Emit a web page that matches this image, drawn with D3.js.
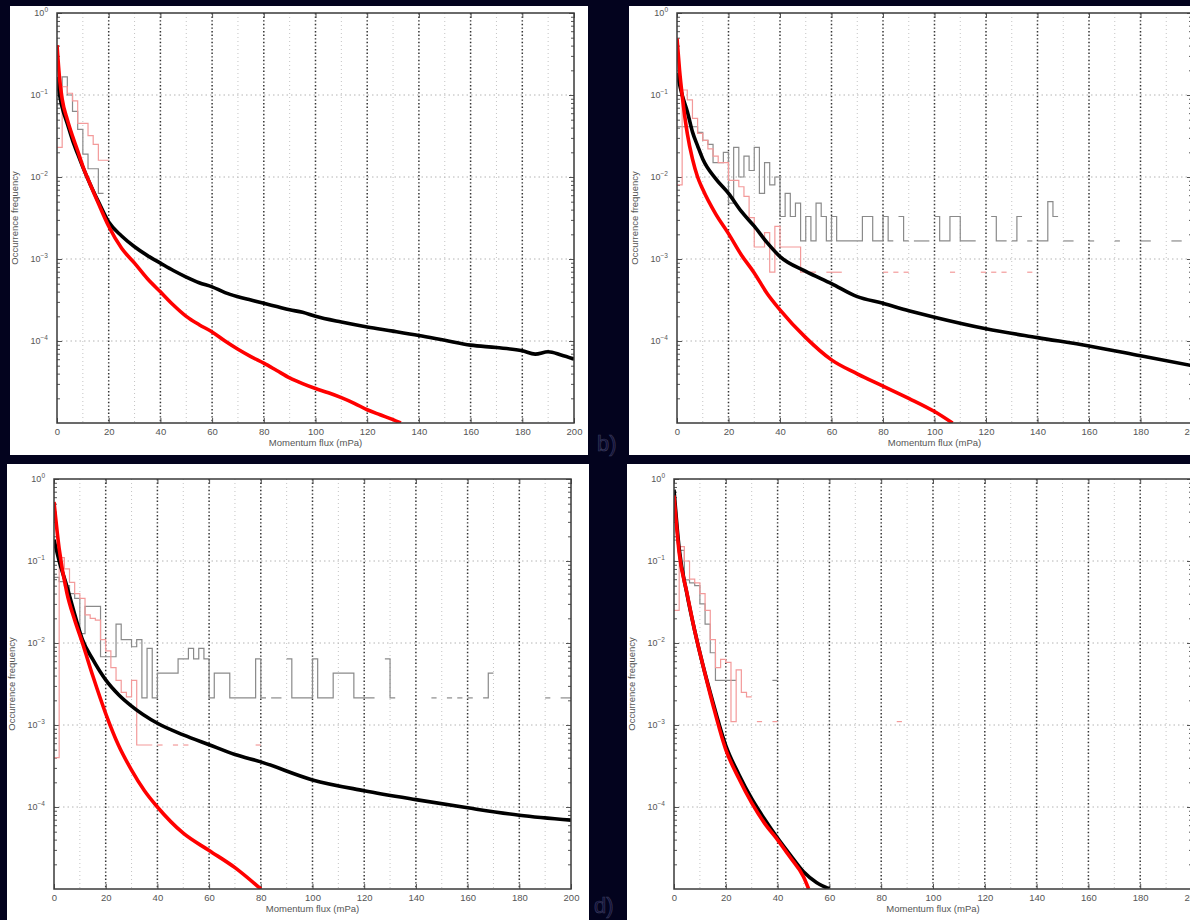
<!DOCTYPE html>
<html><head><meta charset="utf-8">
<script src="https://cdn.jsdelivr.net/npm/d3@7"></script>
<style>html,body{margin:0;padding:0;background:#03031e;overflow:hidden}svg{display:block}</style>
</head><body>
<svg id="chart" width="1190" height="920"></svg>
<script>
// ---------- tick labels / text ----------
const xTickValues = [0,20,40,60,80,100,120,140,160,180,200];
const yTickExponents = [0,-1,-2,-3,-4];
const xLabel = "Momentum flux (mPa)";
const yLabel = "Occurrence frequency";
const panelLetters = [null,"b)",null,"d)"];
const histBinWidth = 2;

// ---------- panel a ----------
const redA = [[0,4.07e-1],[1,1.58e-1],[2,8.91e-2],[4,5.01e-2],[6,3.16e-2],[8,2.09e-2],[10,1.35e-2],[13,7.94e-3],[16,4.79e-3],[20,2.51e-3],[25,1.35e-3],[30,8.91e-4],[35,5.75e-4],[40,3.98e-4],[45,2.75e-4],[50,2.00e-4],[55,1.58e-4],[60,1.29e-4],[65,1.00e-4],[70,7.94e-5],[75,6.46e-5],[80,5.37e-5],[85,4.37e-5],[90,3.55e-5],[95,3.02e-5],[100,2.63e-5],[105,2.34e-5],[110,2.04e-5],[115,1.74e-5],[120,1.45e-5],[125,1.26e-5],[130,1.10e-5],[133,1.00e-5]];
const blackA = [[0,1.66e-1],[1,1.00e-1],[2,7.08e-2],[4,4.47e-2],[6,2.82e-2],[8,1.91e-2],[10,1.32e-2],[13,7.94e-3],[16,5.01e-3],[20,2.82e-3],[25,1.91e-3],[30,1.41e-3],[35,1.10e-3],[40,8.91e-4],[45,7.24e-4],[50,6.03e-4],[55,5.13e-4],[60,4.57e-4],[65,3.89e-4],[70,3.47e-4],[75,3.16e-4],[80,2.88e-4],[85,2.63e-4],[90,2.40e-4],[95,2.24e-4],[100,2.00e-4],[110,1.70e-4],[120,1.48e-4],[130,1.32e-4],[140,1.17e-4],[150,1.02e-4],[160,8.91e-5],[170,8.32e-5],[180,7.59e-5],[185,6.92e-5],[190,7.41e-5],[195,6.76e-5],[200,6.03e-5]];
const grayA = [[0,7.6e-2],[2,1.66e-1],[4,1.0e-1],[6,6.3e-2],[8,3.8e-2],[10,1.9e-2],[12,1.26e-2],[14,1.26e-2],[16,6.3e-3]];
const pinkA = [[0,2.3e-2],[2,1.26e-1],[4,1.05e-1],[6,8.5e-2],[8,4.5e-2],[10,4.5e-2],[12,3.2e-2],[14,2.5e-2],[16,1.6e-2],[18,1.6e-2]];

// ---------- panel b ----------
const redB = [[0,4.90e-1],[1,2.00e-1],[2,1.00e-1],[4,3.39e-2],[6,1.66e-2],[8,1.00e-2],[10,7.08e-3],[15,3.55e-3],[20,2.04e-3],[25,1.12e-3],[30,6.76e-4],[35,3.80e-4],[40,2.40e-4],[50,1.10e-4],[60,5.89e-5],[70,3.98e-5],[80,2.82e-5],[90,2.00e-5],[100,1.38e-5],[107,1.00e-5]];
const blackB = [[0,1.86e-1],[2,1.00e-1],[4,6.31e-2],[6,3.55e-2],[8,2.40e-2],[10,1.66e-2],[15,9.55e-3],[20,6.31e-3],[25,3.80e-3],[30,2.51e-3],[35,1.58e-3],[40,1.07e-3],[50,7.08e-4],[60,5.01e-4],[70,3.47e-4],[80,2.88e-4],[90,2.34e-4],[100,1.95e-4],[120,1.41e-4],[140,1.10e-4],[160,8.71e-5],[180,6.61e-5],[200,5.01e-5]];
const grayB = [[0,4.1e-2],[2,4.1e-2],[4,4.1e-2],[6,4.1e-2],[8,3.5e-2],[10,2.8e-2],[12,2.5e-2],[14,1.5e-2],[16,1.5e-2],[18,2.0e-2],[20,4.8e-3],[22,2.3e-2],[24,1.0e-2],[26,1.8e-2],[28,1.2e-2],[30,2.3e-2],[32,6.3e-3],[34,1.5e-2],[36,8.0e-3],[38,1.0e-2],[40,3.3e-3],[42,6.3e-3],[44,3.3e-3],[46,4.8e-3],[48,1.66e-3],[50,3.3e-3],[52,1.66e-3],[54,4.8e-3],[56,3.3e-3],[58,1.66e-3],[60,3.3e-3],[62,1.66e-3],[64,1.66e-3],[66,1.66e-3],[68,1.66e-3],[70,1.66e-3],[72,3.3e-3],[74,3.3e-3],[76,1.66e-3],[78,1.66e-3],[80,3.3e-3],[82,1.66e-3],[86,3.3e-3],[88,1.66e-3],[92,1.66e-3],[94,1.66e-3],[96,1.66e-3],[100,3.3e-3],[102,1.66e-3],[104,1.66e-3],[106,3.3e-3],[108,3.3e-3],[110,1.66e-3],[112,1.66e-3],[114,1.66e-3],[122,3.3e-3],[124,1.66e-3],[126,1.66e-3],[130,1.66e-3],[132,3.3e-3],[136,1.66e-3],[140,1.66e-3],[142,1.66e-3],[144,5.0e-3],[146,3.3e-3],[150,1.66e-3],[152,1.66e-3],[160,1.66e-3],[170,1.66e-3],[180,1.66e-3],[182,1.66e-3],[192,1.66e-3],[194,1.66e-3]];
const pinkB = [[0,8.0e-3],[2,1.15e-1],[4,8.7e-2],[6,5.2e-2],[8,3.4e-2],[10,2.8e-2],[12,2.2e-2],[14,1.8e-2],[16,1.5e-2],[18,1.5e-2],[20,9.1e-3],[22,9.1e-3],[24,7.6e-3],[26,5.8e-3],[28,3.2e-3],[30,1.4e-3],[32,1.4e-3],[34,2.1e-3],[36,6.9e-4],[38,2.5e-3],[40,1.4e-3],[42,1.4e-3],[44,1.4e-3],[46,1.4e-3],[48,6.9e-4],[50,6.9e-4],[52,6.9e-4],[58,6.9e-4],[60,6.9e-4],[62,6.9e-4],[80,6.9e-4],[84,6.9e-4],[88,6.9e-4],[106,6.9e-4],[118,6.9e-4],[122,6.9e-4],[126,6.9e-4],[136,6.9e-4]];

// ---------- panel c ----------
const redC = [[0,5.25e-1],[2,1.41e-1],[5,4.07e-2],[8,1.91e-2],[11,1.00e-2],[15,3.98e-3],[20,1.38e-3],[25,5.62e-4],[30,2.82e-4],[35,1.58e-4],[40,1.00e-4],[50,4.79e-5],[60,2.95e-5],[70,1.82e-5],[80,1.00e-5]];
const blackC = [[0,1.82e-1],[2,1.00e-1],[5,4.90e-2],[8,2.24e-2],[11,1.10e-2],[15,6.31e-3],[20,3.55e-3],[25,2.34e-3],[30,1.70e-3],[40,1.05e-3],[50,7.59e-4],[60,5.75e-4],[70,4.37e-4],[80,3.55e-4],[100,2.14e-4],[120,1.58e-4],[140,1.23e-4],[160,9.77e-5],[180,7.94e-5],[200,6.92e-5]];
const grayC = [[0,6.3e-2],[2,5.6e-2],[4,5.0e-2],[6,4.0e-2],[8,3.5e-2],[10,1.3e-2],[12,2.8e-2],[14,2.8e-2],[16,2.8e-2],[18,6.8e-3],[20,6.8e-3],[22,6.8e-3],[24,1.7e-2],[26,1.1e-2],[28,1.1e-2],[30,9.0e-3],[32,1.1e-2],[34,2.14e-3],[36,8.6e-3],[38,2.14e-3],[40,4.3e-3],[42,4.3e-3],[44,4.3e-3],[46,4.3e-3],[48,6.4e-3],[50,6.4e-3],[52,8.6e-3],[54,6.4e-3],[56,8.6e-3],[58,6.4e-3],[60,2.14e-3],[62,4.3e-3],[64,4.3e-3],[66,4.3e-3],[68,2.14e-3],[70,2.14e-3],[72,2.14e-3],[74,2.14e-3],[76,2.14e-3],[78,6.4e-3],[80,2.14e-3],[84,2.14e-3],[86,2.14e-3],[90,6.4e-3],[92,2.14e-3],[94,2.14e-3],[96,2.14e-3],[98,2.14e-3],[100,6.4e-3],[102,2.14e-3],[104,2.14e-3],[106,2.14e-3],[108,4.3e-3],[110,4.3e-3],[112,4.3e-3],[114,4.3e-3],[116,2.14e-3],[118,2.14e-3],[120,2.14e-3],[122,2.14e-3],[128,6.4e-3],[130,2.14e-3],[146,2.14e-3],[152,2.14e-3],[156,2.14e-3],[160,2.14e-3],[166,2.14e-3],[168,4.3e-3],[190,2.14e-3],[196,2.14e-3],[198,2.14e-3]];
const pinkC = [[0,4.0e-4],[2,1.1e-1],[4,8.0e-2],[6,5.5e-2],[8,4.0e-2],[10,3.5e-2],[12,2.2e-2],[14,2.0e-2],[16,1.9e-2],[18,1.1e-2],[20,8.0e-3],[22,5.0e-3],[24,3.5e-3],[26,2.5e-3],[28,2.2e-3],[30,3.5e-3],[32,5.7e-4],[34,5.7e-4],[36,5.7e-4],[40,5.7e-4],[46,5.7e-4],[50,5.7e-4],[78,5.7e-4]];

// ---------- panel d ----------
const redD = [[0,6.31e-1],[2,1.26e-1],[5,4.07e-2],[8,1.41e-2],[11,5.62e-3],[15,1.78e-3],[20,5.01e-4],[25,2.24e-4],[30,1.12e-4],[35,6.31e-5],[40,3.98e-5],[45,2.40e-5],[50,1.41e-5],[52,1.00e-5]];
const blackD = [[0,7.41e-1],[2,1.41e-1],[5,3.98e-2],[8,1.41e-2],[11,5.62e-3],[15,1.91e-3],[20,5.62e-4],[25,2.51e-4],[30,1.26e-4],[35,7.08e-5],[40,4.17e-5],[45,2.57e-5],[50,1.62e-5],[55,1.20e-5],[60,1.00e-5]];
const grayD = [[0,1.8e-1],[2,1.35e-1],[4,5.9e-2],[6,5.4e-2],[8,5.0e-2],[10,3.0e-2],[12,1.7e-2],[14,7.6e-3],[16,3.5e-3],[18,3.5e-3],[20,3.5e-3],[22,3.5e-3],[38,3.5e-3]];
const pinkD = [[0,2.5e-2],[2,1.5e-1],[4,1.0e-1],[6,6.0e-2],[8,5.4e-2],[10,4.0e-2],[12,2.5e-2],[14,1.1e-2],[16,5.0e-3],[18,6.3e-3],[20,5.8e-3],[22,1.1e-3],[24,4.7e-3],[26,2.5e-3],[28,2.2e-3],[32,1.1e-3],[38,1.1e-3],[86,1.1e-3]];

// ---------- layout ----------
const panels = [
  {bg:[10,6,578,449],  x0:57,  x1:574,  y0:13,  y1:423, red:redA, black:blackA, gray:grayA, pink:pinkA, letter:null},
  {bg:[629,6,600,449], x0:677, x1:1192, y0:13,  y1:423, red:redB, black:blackB, gray:grayB, pink:pinkB, letter:[597,451]},
  {bg:[7,464,582,470], x0:54,  x1:571,  y0:479, y1:889, red:redC, black:blackC, gray:grayC, pink:pinkC, letter:null},
  {bg:[627,464,600,470],x0:674,x1:1192, y0:479, y1:889, red:redD, black:blackD, gray:grayD, pink:pinkD, letter:[594,913]}
];

const svg = d3.select("#chart");
svg.append("rect").attr("width",1190).attr("height",920).attr("fill","#03031e");
const defs = svg.append("defs");
const font = "'Liberation Sans', Arial, sans-serif";

panels.forEach((p,i)=>{
  svg.append("rect").attr("x",p.bg[0]).attr("y",p.bg[1]).attr("width",p.bg[2]).attr("height",p.bg[3]).attr("fill","#ffffff");
  const x = d3.scaleLinear().domain([0,200]).range([p.x0,p.x1]);
  const y = d3.scaleLog().domain([1e-5,1]).range([p.y1,p.y0]);
  const g = svg.append("g");
  const cid = "clip"+i;
  defs.append("clipPath").attr("id",cid).append("rect")
    .attr("x",p.x0).attr("y",p.y0).attr("width",p.x1-p.x0).attr("height",p.y1-p.y0);

  // grid: vertical
  d3.range(10,200,10).forEach(v=>{
    const major = v%20===0;
    g.append("line").attr("x1",x(v)).attr("x2",x(v)).attr("y1",p.y0).attr("y2",p.y1)
      .attr("stroke", major? "#333":"#c4c4c4")
      .attr("stroke-width", major?1.5:1)
      .attr("stroke-dasharray", major? "1.4,2.2":"1,3");
  });
  // grid: horizontal decades
  yTickExponents.filter(e=>e<0).forEach(e=>{
    g.append("line").attr("x1",p.x0).attr("x2",p.x1).attr("y1",y(Math.pow(10,e))).attr("y2",y(Math.pow(10,e)))
      .attr("stroke","#b4b4b4").attr("stroke-width",1).attr("stroke-dasharray","1.5,3");
  });

  // axes via d3 axis generators (ticks inward)
  const xb = d3.axisBottom(x).tickValues(xTickValues).tickSize(-5).tickPadding(5).tickFormat(d3.format("d"));
  const xt = d3.axisTop(x).tickValues(xTickValues).tickSize(-5).tickFormat("");
  const minor = [];
  for(let e=-5;e<0;e++){ for(let m=2;m<10;m++){ minor.push(m*Math.pow(10,e)); } }
  const yl = d3.axisLeft(y).tickValues(yTickExponents.map(e=>Math.pow(10,e))).tickSize(-5).tickFormat("");
  const ylm = d3.axisLeft(y).tickValues(minor).tickSize(-3).tickFormat("");
  const yr = d3.axisRight(y).tickValues(yTickExponents.map(e=>Math.pow(10,e))).tickSize(-5).tickFormat("");
  const yrm = d3.axisRight(y).tickValues(minor).tickSize(-3).tickFormat("");
  const styleAxis = sel => { sel.select(".domain").remove(); sel.selectAll(".tick line").attr("stroke","#555").attr("stroke-width",1); };
  g.append("g").attr("transform",`translate(0,${p.y1})`).call(xb).call(styleAxis)
    .selectAll("text").attr("fill","#555").attr("font-family",font).attr("font-size",9.5);
  g.append("g").attr("transform",`translate(0,${p.y0})`).call(xt).call(styleAxis);
  g.append("g").attr("transform",`translate(${p.x0},0)`).call(yl).call(styleAxis);
  g.append("g").attr("transform",`translate(${p.x0},0)`).call(ylm).call(styleAxis);
  g.append("g").attr("transform",`translate(${p.x1},0)`).call(yr).call(styleAxis);
  g.append("g").attr("transform",`translate(${p.x1},0)`).call(yrm).call(styleAxis);

  // y tick labels 10^e
  yTickExponents.forEach(e=>{
    const t = g.append("text").attr("x",p.x0-9).attr("y",y(Math.pow(10,e))+3)
      .attr("text-anchor","end").attr("fill","#555").attr("font-family",font).attr("font-size",9);
    t.append("tspan").text("10");
    t.append("tspan").attr("dy",-4).attr("font-size",6.5).text(String(e).replace("-","\u2212"));
  });

  // histograms (stairs, broken at empty bins)
  const drawHist = (data,color,width)=>{
    const runs=[]; let cur=[];
    data.forEach((d,k)=>{
      if(k>0 && d[0]!==data[k-1][0]+histBinWidth){ runs.push(cur); cur=[]; }
      cur.push(d);
    });
    if(cur.length) runs.push(cur);
    runs.forEach(r=>{
      let path = `M${x(r[0][0])},${y(r[0][1])}`;
      r.forEach((d,k)=>{
        if(k>0) path += `V${y(d[1])}`;
        path += `H${x(d[0]+histBinWidth)}`;
      });
      g.append("path").attr("d",path).attr("fill","none").attr("stroke",color)
        .attr("stroke-width",width).attr("clip-path",`url(#${cid})`);
    });
  };
  drawHist(p.gray,"#8a8a8a",1.2);
  drawHist(p.pink,"#f39a9a",1.2);

  const line = d3.line().x(d=>x(d[0])).y(d=>y(d[1])).curve(d3.curveMonotoneX);
  g.append("path").datum(p.black).attr("d",line).attr("fill","none").attr("stroke","#000")
    .attr("stroke-width",3.6).attr("stroke-linejoin","round").attr("clip-path",`url(#${cid})`);
  g.append("path").datum(p.red).attr("d",line).attr("fill","none").attr("stroke","#ff0000")
    .attr("stroke-width",3.6).attr("stroke-linejoin","round").attr("clip-path",`url(#${cid})`);

  // axes box
  g.append("rect").attr("x",p.x0).attr("y",p.y0).attr("width",p.x1-p.x0).attr("height",p.y1-p.y0)
    .attr("fill","none").attr("stroke","#3a3a3a").attr("stroke-width",1.5);

  // labels
  g.append("text").attr("x",(p.x0+p.x1)/2).attr("y",p.y1+23).attr("text-anchor","middle")
    .attr("fill","#555").attr("font-family",font).attr("font-size",9.5).text(xLabel);
  g.append("text").attr("transform",`translate(${p.x0-39},${(p.y0+p.y1)/2}) rotate(-90)`)
    .attr("text-anchor","middle").attr("fill","#555").attr("font-family",font).attr("font-size",9.5).text(yLabel);

  if(p.letter){
    svg.append("text").attr("x",p.letter[0]).attr("y",p.letter[1]).attr("fill","#10103a")
      .attr("stroke","#3e3e5c").attr("stroke-width",0.6)
      .attr("font-family",font).attr("font-size",22).text(panelLetters[i]);
  }
});
</script>
</body></html>
